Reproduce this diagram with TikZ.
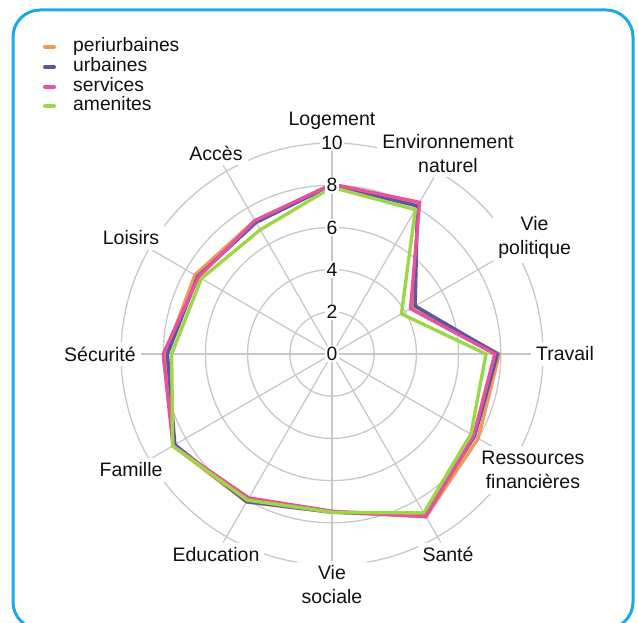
\documentclass[tikz,border=0pt]{standalone}
\usepackage{fontspec}
\setmainfont{Liberation Sans}
\usetikzlibrary{calc}
\definecolor{cperi}{HTML}{EE9A5C}
\definecolor{curb}{HTML}{5A56A2}
\definecolor{cserv}{HTML}{E8519C}
\definecolor{camen}{HTML}{9DD747}
\definecolor{frameblue}{HTML}{1AAAE9}
\definecolor{gridgray}{HTML}{C8C8C8}
\definecolor{txt}{HTML}{111111}
\def\unitr{21.1}
\begin{document}
\begin{tikzpicture}[x=1pt,y=1pt,
  font=\fontsize{19.3}{19.5}\selectfont, text=txt,
  gridline/.style={draw=gridgray,line width=1.3pt},
  axislabel/.style={fill=white,inner sep=5pt,align=center,font=\fontsize{19.5}{24}\selectfont},
  ticklabel/.style={fill=white,inner sep=1.5pt},
  series/.style={line width=3.4pt,line join=miter},
  legdash/.style={line width=4pt,line cap=round},
  legtext/.style={anchor=base west,inner sep=0pt}]
\useasboundingbox (0,0) rectangle (638,623);
\clip (0,0) rectangle (638,623);
\draw[frameblue,line width=3pt,rounded corners=27pt] (13,-6) rectangle (633,613);

% legend
\draw[legdash,cperi] (45,576) -- (54,576);
\node[legtext] (leg1) at (73,571.2) {periurbaines};
\draw[legdash,curb] (45,556) -- (54,556);
\node[legtext] (leg2) at (73,551.2) {urbaines};
\draw[legdash,cserv] (45,536) -- (54,536);
\node[legtext] (leg3) at (73,531.2) {services};
\draw[legdash,camen] (45,517) -- (54,517);
\node[legtext] (leg4) at (73,512.2) {amenites};

\coordinate (C) at (332,269);
% grid circles
\foreach \v in {2,4,6,8,10} \draw[gridline] (C) circle ({\v*\unitr});

% axis labels
\begin{scope}[shift={(C)}]
\node[axislabel] (L90)  at (90:233)  {Logement};
\node[axislabel] (L60)  at (60:232)  {Environnement\\naturel};
\node[axislabel] (L30)  at (30:234)  {Vie\\politique};
\node[axislabel] (L0)   at (0:233)   {Travail};
\node[axislabel] (L330) at (-30:232) {Ressources\\financières};
\node[axislabel] (L300) at (-60:232) {Santé};
\node[axislabel] (L270) at (-90:231) {Vie\\sociale};
\node[axislabel] (L240) at (-120:232) {Education};
\node[axislabel] (L210) at (-150:232) {Famille};
\node[axislabel] (L180) at (180:232) {Sécurité};
\node[axislabel] (L150) at (150:232) {Loisirs};
\node[axislabel] (L120) at (120:232) {Accès};
\end{scope}

% axes
\foreach \n in {90,60,30,0,330,300,270,240,210,180,150,120}
  \draw[gridline] (C) -- (L\n);

% series
\begin{scope}[shift={(C)}]
\draw[series,cperi] (90:{8.0*\unitr}) -- (60:{8.2*\unitr}) -- (30:{4.4*\unitr}) -- (0:{7.93*\unitr}) -- (-30:{8.0*\unitr}) -- (-60:{8.9*\unitr}) -- (-90:{7.5*\unitr}) -- (-120:{8.1*\unitr}) -- (-150:{8.7*\unitr}) -- (180:{7.9*\unitr}) -- (150:{7.5*\unitr}) -- (120:{7.3*\unitr}) -- cycle;
\draw[series,curb] (90:{8.0*\unitr}) -- (60:{8.1*\unitr}) -- (30:{4.55*\unitr}) -- (0:{7.84*\unitr}) -- (-30:{7.8*\unitr}) -- (-60:{8.8*\unitr}) -- (-90:{7.5*\unitr}) -- (-120:{8.08*\unitr}) -- (-150:{8.6*\unitr}) -- (180:{7.8*\unitr}) -- (150:{7.35*\unitr}) -- (120:{7.2*\unitr}) -- cycle;
\draw[series,cserv] (90:{8.05*\unitr}) -- (60:{8.3*\unitr}) -- (30:{4.3*\unitr}) -- (0:{7.72*\unitr}) -- (-30:{7.75*\unitr}) -- (-60:{8.9*\unitr}) -- (-90:{7.45*\unitr}) -- (-120:{7.88*\unitr}) -- (-150:{8.7*\unitr}) -- (180:{8.0*\unitr}) -- (150:{7.3*\unitr}) -- (120:{7.3*\unitr}) -- cycle;
\draw[series,camen] (90:{7.9*\unitr}) -- (60:{7.9*\unitr}) -- (30:{3.8*\unitr}) -- (0:{7.3*\unitr}) -- (-30:{7.6*\unitr}) -- (-60:{8.7*\unitr}) -- (-90:{7.5*\unitr}) -- (-120:{8.0*\unitr}) -- (-150:{8.72*\unitr}) -- (180:{7.6*\unitr}) -- (150:{7.15*\unitr}) -- (120:{6.8*\unitr}) -- cycle;
\end{scope}

% tick labels
\foreach \v in {0,2,4,6,8,10}
  \node[ticklabel] (T\v) at ($(C)+(0,{\v*\unitr})$) {\v};
\end{tikzpicture}
\end{document}
